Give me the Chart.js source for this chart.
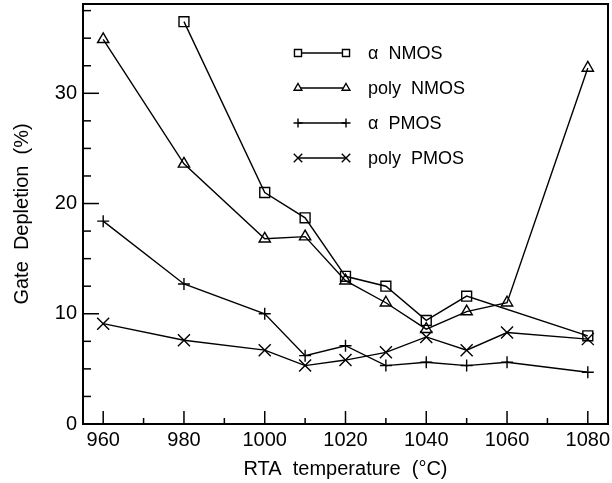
<!DOCTYPE html>
<html>
<head>
<meta charset="utf-8">
<script src="https://cdn.jsdelivr.net/npm/chart.js@4/dist/chart.umd.min.js"></script>
<style>
  body { margin: 0; background: #fff; }
  #wrap { width: 612px; height: 483px; }
</style>
</head>
<body>
<div id="wrap"><canvas id="depletionChart" width="612" height="483"></canvas></div>
<script>
// RTA temperatures (°C)
const temps = [960, 980, 1000, 1010, 1020, 1030, 1040, 1050, 1060, 1080];

// gate depletion (%) per device, null = not measured
const alphaNmos = [null, 36.5, 21.0, 18.7, 13.4, 12.5, 9.4, 11.6, null, 8.0];
const polyNmos  = [34.9, 23.6, 16.8, 17.0, 13.0, 11.0, 8.6, 10.2, 11.0, 32.3];
const alphaPmos = [18.4, 12.7, 10.0, 6.2, 7.1, 5.3, 5.6, 5.3, 5.6, 4.7];
const polyPmos  = [9.1, 7.6, 6.7, 5.3, 5.8, 6.5, 7.9, 6.7, 8.3, 7.7];

const xTicks = [960, 980, 1000, 1020, 1040, 1060, 1080];
const yTicks = [0, 10, 20, 30];

const FONT = 'Liberation Sans, Arial, sans-serif';

function series(label, values, style, radius) {
    return {
        label: label,
        data: temps.map((t, i) => ({ x: t, y: values[i] })),
        borderColor: '#000',
        borderWidth: 1.4,
        pointStyle: style,
        pointRadius: radius,
        pointHoverRadius: radius,
        pointBorderColor: '#000',
        pointBackgroundColor: 'rgba(0,0,0,0)',
        pointBorderWidth: 1.4,
        spanGaps: true,
        fill: false,
        tension: 0
    };
}

// no extra padding from labels, the plot box is fixed
function noPad(s) {
    s.paddingLeft = 0; s.paddingRight = 0;
    s.paddingTop = 0; s.paddingBottom = 0;
}

// inward ticks + frame + legend, all placed via the chart's scales
const framePlugin = {
    id: 'frame',
    afterDraw(chart) {
        const ctx = chart.ctx;
        const a = chart.chartArea;
        const xs = chart.scales.x, ys = chart.scales.y;
        ctx.save();
        ctx.strokeStyle = '#000';
        ctx.lineWidth = 1.5;
        // x ticks
        for (let v = 960; v <= 1080; v += 10) {
            const px = xs.getPixelForValue(v);
            const len = (v % 20 === 0) ? 13 : 6;
            ctx.beginPath();
            ctx.moveTo(px, a.bottom);
            ctx.lineTo(px, a.bottom - len);
            ctx.stroke();
        }
        // y ticks
        for (let v = 0; v <= 37.5; v += 2.5) {
            const py = ys.getPixelForValue(v);
            const len = (v % 10 === 0) ? 16 : 8;
            ctx.beginPath();
            ctx.moveTo(a.left, py);
            ctx.lineTo(a.left + len, py);
            ctx.stroke();
        }
        // frame
        ctx.lineWidth = 2;
        ctx.strokeRect(a.left, a.top, a.right - a.left, a.bottom - a.top);

        // legend
        const x1 = 298, x2 = 346, tx = 368;
        let y = 53;
        ctx.font = '18px ' + FONT;
        ctx.textBaseline = 'middle';
        ctx.textAlign = 'left';
        ctx.fillStyle = '#000';
        chart.data.datasets.forEach(ds => {
            ctx.lineWidth = 1.4;
            ctx.beginPath();
            ctx.moveTo(x1, y);
            ctx.lineTo(x2, y);
            ctx.stroke();
            const r = ds.pointStyle === 'crossRot' ? 6 : (ds.pointStyle === 'rect' ? 5 : 4.5);
            [x1, x2].forEach(px => {
                ctx.fillStyle = '#fff';
                Chart.helpers.drawPoint(ctx, { pointStyle: ds.pointStyle, radius: r, rotation: 0, borderWidth: 1.4 }, px, y);
            });
            ctx.fillStyle = '#000';
            ctx.fillText(ds.label, tx, y + 1);
            y += 35;
        });
        ctx.restore();
    }
};

const ctx = document.getElementById('depletionChart').getContext('2d');
window.depletionChart = new Chart(ctx, {
    type: 'line',
    data: {
        datasets: [
            series('\u03B1  NMOS', alphaNmos, 'rect', 7),
            series('poly  NMOS', polyNmos, 'triangle', 6.5),
            series('\u03B1  PMOS', alphaPmos, 'cross', 6),
            series('poly  PMOS', polyPmos, 'crossRot', 8.5)
        ]
    },
    options: {
        responsive: false,
        animation: false,
        layout: { autoPadding: false, padding: { top: 4, right: 4, left: 0, bottom: 0 } },
        plugins: { legend: { display: false }, tooltip: { enabled: false } },
        scales: {
            x: {
                type: 'linear',
                min: 955,
                max: 1085,
                afterBuildTicks: s => { s.ticks = xTicks.map(v => ({ value: v })); },
                afterFit: s => { s.height = 59; noPad(s); },
                grid: { display: false, drawTicks: false },
                border: { display: false },
                ticks: {
                    color: '#000', font: { family: FONT, size: 20 }, padding: 4, maxRotation: 0,
                    callback: v => String(v)
                },
                title: {
                    display: true,
                    text: 'RTA  temperature  (\u00B0C)',
                    color: '#000',
                    font: { family: FONT, size: 20 },
                    padding: { top: 0, bottom: 2 }
                }
            },
            y: {
                type: 'linear',
                min: 0,
                max: 38.1,
                afterBuildTicks: s => { s.ticks = yTicks.map(v => ({ value: v })); },
                afterFit: s => { s.width = 83; noPad(s); },
                grid: { display: false, drawTicks: false },
                border: { display: false },
                ticks: {
                    color: '#000', font: { family: FONT, size: 20 }, padding: 6,
                    callback: v => String(v)
                },
                title: {
                    display: true,
                    text: 'Gate  Depletion  (%)',
                    color: '#000',
                    font: { family: FONT, size: 20 },
                    padding: { top: 10, bottom: 0 }
                }
            }
        }
    },
    plugins: [framePlugin]
});
</script>
</body>
</html>
